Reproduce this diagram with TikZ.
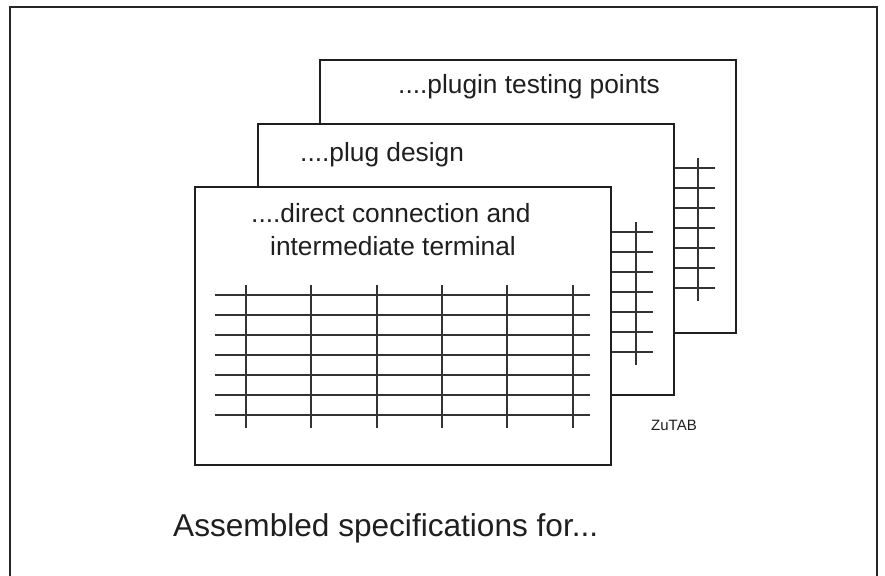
\documentclass[tikz,border=0pt]{standalone}
\usepackage{fontspec}
\setmainfont{Liberation Sans}
\newcommand\zutabgrid{%
  \foreach \yy in {295,315,...,415} \draw[gridline] (215,\yy) -- (590,\yy);
  \foreach \xx in {246,311,377,442,507,573} \draw[gridline] (\xx,285) -- (\xx,428);
}
\begin{document}
\begin{tikzpicture}[x=1pt,y=-1pt,
  card/.style={draw=black!88, line width=2.4pt, fill=white, minimum width=416pt,
    inner sep=0pt, outer sep=0pt, anchor=north west},
  gridline/.style={draw=black!80, line width=1.4pt},
  frame/.style={draw=black!85, line width=2pt},
  cardtext/.style={font=\fontsize{26.3}{32}\selectfont, inner sep=0pt, anchor=base west, text=black!88},
  bigtext/.style={font=\fontsize{31.6}{38}\selectfont, inner sep=0pt, anchor=base west, text=black!88},
  smalltext/.style={font=\fontsize{15}{18}\selectfont, inner sep=0pt, anchor=base west, text=black!88}]
\useasboundingbox (0,0) rectangle (885,575);
\coordinate (fbl) at (10,580);
\coordinate (ftl) at (10,7);
\coordinate (ftr) at (877,7);
\coordinate (fbr) at (877,580);
\draw[frame] (fbl) -- (ftl) -- (ftr) -- (fbr);
% back card
\begin{scope}[shift={(125,-127)}]
  \node[card, minimum height=273pt] (card3) at (195,187) {};
  \zutabgrid
\end{scope}
\node[cardtext] (t3) at (398,93.5) {....plugin testing points};
% middle card
\begin{scope}[shift={(63,-63)}]
  \node[card, minimum height=271pt] (card2) at (195,187) {};
  \zutabgrid
\end{scope}
\node[cardtext] (t2) at (300,161.5) {....plug design};
% front card
\node[card, minimum height=278pt] (card1) at (195,187) {};
\zutabgrid
\node[cardtext] (t1a) at (251,222.5) {....direct connection and};
\node[cardtext] (t1b) at (270,255) {intermediate terminal};
\node[smalltext] (zutab) at (651,430) {ZuTAB};
\node[bigtext] (title) at (173,536) {Assembled specifications for...};
\end{tikzpicture}
\end{document}
